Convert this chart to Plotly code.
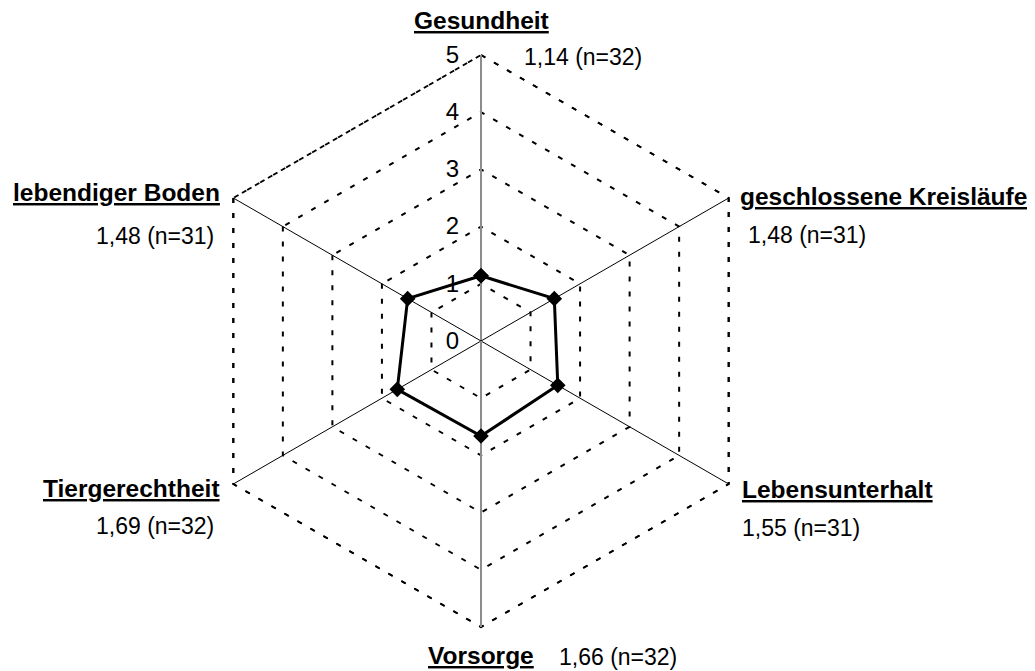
import plotly.graph_objects as go

categories = ["Gesundheit", "geschlossene Kreisläufe", "Lebensunterhalt",
              "Vorsorge", "Tiergerechtheit", "lebendiger Boden"]
values = [1.14, 1.48, 1.55, 1.66, 1.69, 1.48]
counts = [32, 31, 31, 32, 32, 31]
radial_ticks = [0, 1, 2, 3, 4, 5]

OFF = 8  # page body margin
W, H = 1035 - OFF, 671 - OFF
PAD = 1.008  # small headroom so the outer hexagon is not clipped
cx, cy, R = 481 - OFF, 341 - OFF, 286 * PAD
FONT = "Liberation Sans, Arial, sans-serif"
DASH = "5px,10px"

fig = go.Figure()

# outer dotted hexagon at the maximum radial tick
rmax = radial_ticks[-1]
fig.add_trace(go.Scatterpolar(
    r=[rmax] * (len(categories) + 1), theta=categories + categories[:1],
    mode="lines", line=dict(color="black", width=2, dash=DASH),
    hoverinfo="skip", showlegend=False))

# grey vertical spoke continuing downward (Vorsorge)
fig.add_trace(go.Scatterpolar(
    r=[0, rmax], theta=[categories[3], categories[3]], mode="lines",
    line=dict(color="#8c8c8c", width=2),
    hoverinfo="skip", showlegend=False))

fig.add_trace(go.Scatterpolar(
    r=values + values[:1], theta=categories + categories[:1],
    mode="lines+markers",
    line=dict(color="black", width=3),
    marker=dict(symbol="diamond", size=12, color="black"),
    showlegend=False))

fig.update_layout(
    width=W, height=H,
    margin=dict(l=0, r=0, t=0, b=0),
    paper_bgcolor="white", plot_bgcolor="white",
    font=dict(family=FONT, color="black"),
    polar=dict(
        domain=dict(x=[(cx - R) / W, (cx + R) / W],
                    y=[(H - cy - R) / H, (H - cy + R) / H]),
        bgcolor="white",
        gridshape="linear",
        radialaxis=dict(
            range=[0, rmax * PAD], tickvals=radial_ticks,
            ticktext=[str(v) for v in radial_ticks],
            angle=90, tickangle=90, side="counterclockwise",
            showline=False,
            showgrid=True, gridcolor="black", gridwidth=2, griddash=DASH,
            ticks="outside", ticklen=13, tickcolor="rgba(0,0,0,0)",
            tickfont=dict(size=24, family=FONT, color="black"),
            layer="below traces"),
        angularaxis=dict(
            direction="clockwise", rotation=90,
            categoryorder="array", categoryarray=categories,
            showticklabels=False, ticks="",
            showline=False,
            showgrid=False,
            layer="below traces"),
    ),
)

# spokes drawn from the centre to the outer tick for each category
for i, cat in enumerate(categories):
    vertical = i in (0, 3)
    fig.add_trace(go.Scatterpolar(
        r=[0, rmax], theta=[cat, cat], mode="lines",
        line=dict(color="#8c8c8c" if vertical else "black",
                  width=2 if vertical else 1),
        hoverinfo="skip", showlegend=False))

# move the data polygon to the top
fig.data = fig.data[:1] + fig.data[3:] + fig.data[1:3]

def px(x):
    return (x - OFF) / W

def py(y):
    return 1 - (y - OFF) / H

# label positions (pixel anchors in the window) and value-label positions
label_pos = [
    (481, 20, "center"),
    (738, 196, "left"),
    (740, 489, "left"),
    (481, 655, "center"),
    (222, 488, "right"),
    (222, 192, "right"),
]
value_pos = [
    (522, 57, "left"),
    (746, 235, "left"),
    (740, 528, "left"),
    (557, 657, "left"),
    (216, 526, "right"),
    (216, 236, "right"),
]

for cat, val, n, (lx, ly, la), (vx, vy, va) in zip(categories, values, counts, label_pos, value_pos):
    fig.add_annotation(x=px(lx), y=py(ly), xref="paper", yref="paper",
                       text=f"<b><u>{cat}</u></b>", showarrow=False,
                       xanchor=la, yanchor="middle",
                       font=dict(size=24.5, family=FONT, color="black"))
    fig.add_annotation(x=px(vx), y=py(vy), xref="paper", yref="paper",
                       text=f"{val:.2f}".replace(".", ",") + f" (n={n})",
                       showarrow=False, xanchor=va, yanchor="middle",
                       font=dict(size=23, family=FONT, color="black"))

fig.write_html("out.html")
